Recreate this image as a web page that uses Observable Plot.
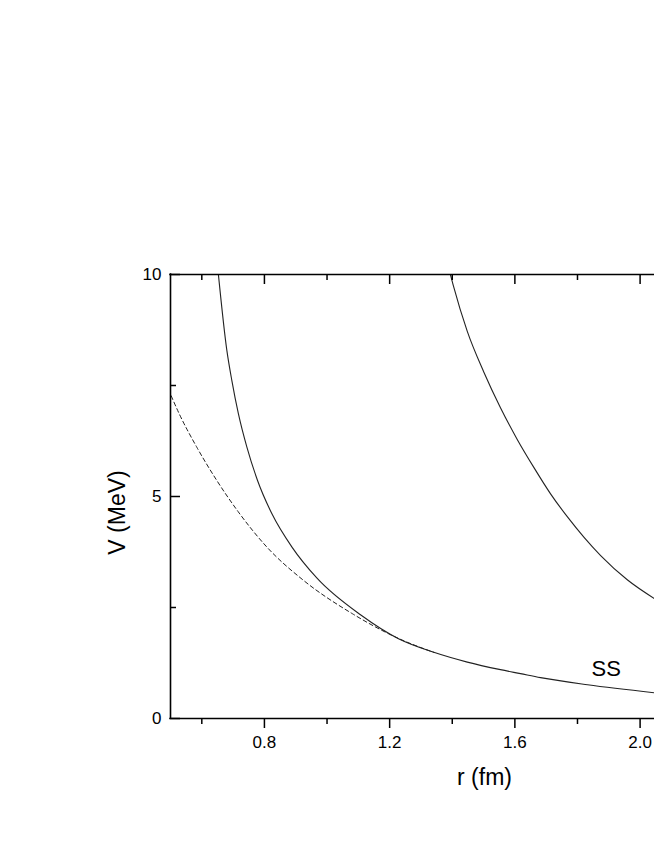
<!DOCTYPE html>
<html>
<head>
<meta charset="utf-8">
<script src="https://cdn.jsdelivr.net/npm/d3@7"></script>
<script src="https://cdn.jsdelivr.net/npm/@observablehq/plot@0.6"></script>
<style>
  html, body { margin: 0; padding: 0; background: #fff; overflow: hidden; }
  #chart { width: 654px; height: 846px; }
</style>
</head>
<body>
<div id="chart"></div>
<script>
// ---- data ----
const xMajor = [0.8, 1.2, 1.6, 2.0];
const xMinor = [0.6, 1.0, 1.4, 1.8];
const yMajor = [0, 5, 10];
const yMinor = [2.5, 7.5];

// dashed curve
const dashedR = [0.502, 0.528, 0.584, 0.648, 0.717, 0.808, 0.925, 1.081, 1.226, 1.341];
const dashedV = [7.27, 6.86, 6.11, 5.36, 4.65, 3.86, 3.11, 2.36, 1.81, 1.49];

// solid curve labelled SS
const ssR = [0.653, 0.680, 0.696, 0.717, 0.744, 0.778, 0.824, 0.888, 0.968, 1.108, 1.230, 1.341, 1.448, 1.554, 1.618, 1.682, 1.832, 2.046];
const ssV = [10, 8.29, 7.61, 6.86, 6.11, 5.36, 4.61, 3.86, 3.16, 2.33, 1.79, 1.49, 1.27, 1.10, 1.01, 0.92, 0.76, 0.58];

// second solid curve
const bR = [1.394, 1.403, 1.448, 1.501, 1.554, 1.608, 1.661, 1.714, 1.768, 1.821, 1.874, 1.960, 2.046];
const bV = [10, 9.76, 8.72, 7.80, 7.00, 6.28, 5.65, 5.06, 4.54, 4.08, 3.67, 3.12, 2.70];

const labelText = ["SS"];
const labelR = [1.892];
const labelV = [0.95];

const xLabel = "r (fm)";
const yLabel = "V (MeV)";

const xDomain = [0.5, 2.046];
const yDomain = [0, 10];

// ---- build ----
const W = 654, H = 846;
const mL = 170, mR = 0, mT = 274, mB = 128;
const plotW = W - mL - mR, plotH = H - mT - mB;

const zip = (r, v) => r.map((d, i) => ({r: d, v: v[i]}));
const dashed = zip(dashedR, dashedV);
const ss = zip(ssR, ssV);
const b = zip(bR, bV);
const labels = labelText.map((t, i) => ({t, r: labelR[i], v: labelV[i]}));

const font = "'Liberation Sans', Arial, Helvetica, sans-serif";
const ink = "#000";
const curve = "#222";

const chart = Plot.plot({
  width: W,
  height: H,
  marginLeft: mL,
  marginRight: mR,
  marginTop: mT,
  marginBottom: mB,
  style: {fontFamily: font, fontSize: "17px", color: ink, background: "#fff"},
  x: {domain: xDomain, axis: null},
  y: {domain: yDomain, axis: null},
  marks: [
    // curves
    Plot.line(dashed, {x: "r", y: "v", stroke: curve, strokeWidth: 1, strokeDasharray: "4,3", curve: "monotone-x"}),
    Plot.line(ss, {x: "r", y: "v", stroke: curve, strokeWidth: 1.1, curve: "monotone-x"}),
    Plot.line(b, {x: "r", y: "v", stroke: curve, strokeWidth: 1.1, curve: "monotone-x"}),
    // frame (left, bottom, top)
    Plot.ruleX([xDomain[0]], {stroke: ink, strokeWidth: 1.6, strokeLinecap: "square"}),
    Plot.ruleY(yDomain, {stroke: ink, strokeWidth: 1.6, strokeLinecap: "square"}),
    // bottom axis: outward ticks + labels
    Plot.axisX(xMajor, {anchor: "bottom", tickSize: 10, tickPadding: 7, strokeWidth: 1.5, fontSize: 17, label: null}),
    Plot.tickX(xMinor, {x: d => d, insetTop: plotH, insetBottom: -6, stroke: ink, strokeWidth: 1.5}),
    // top axis: inward ticks
    Plot.tickX(xMajor, {x: d => d, insetBottom: plotH - 10, stroke: ink, strokeWidth: 1.5}),
    Plot.tickX(xMinor, {x: d => d, insetBottom: plotH - 6, stroke: ink, strokeWidth: 1.5}),
    // left axis: inward ticks + labels
    Plot.axisY(yMajor, {anchor: "left", tickSize: 0, tickPadding: 9, fontSize: 17, label: null}),
    Plot.tickY(yMajor, {y: d => d, insetRight: plotW - 10, stroke: ink, strokeWidth: 1.5}),
    Plot.tickY(yMinor, {y: d => d, insetRight: plotW - 6, stroke: ink, strokeWidth: 1.5}),
    // axis titles
    Plot.text([xLabel], {frameAnchor: "bottom-left", dx: 314, dy: 59, fontSize: 23, textAnchor: "middle", lineAnchor: "middle", fill: ink}),
    Plot.text([yLabel], {frameAnchor: "left", dx: -53, dy: 16, rotate: -90, fontSize: 23, textAnchor: "middle", lineAnchor: "middle", fill: ink}),
    // curve label
    Plot.text(labels, {x: "r", y: "v", text: "t", fontSize: 22, textAnchor: "middle", lineAnchor: "bottom", fill: ink})
  ]
});

document.getElementById("chart").appendChild(chart);
</script>
</body>
</html>
